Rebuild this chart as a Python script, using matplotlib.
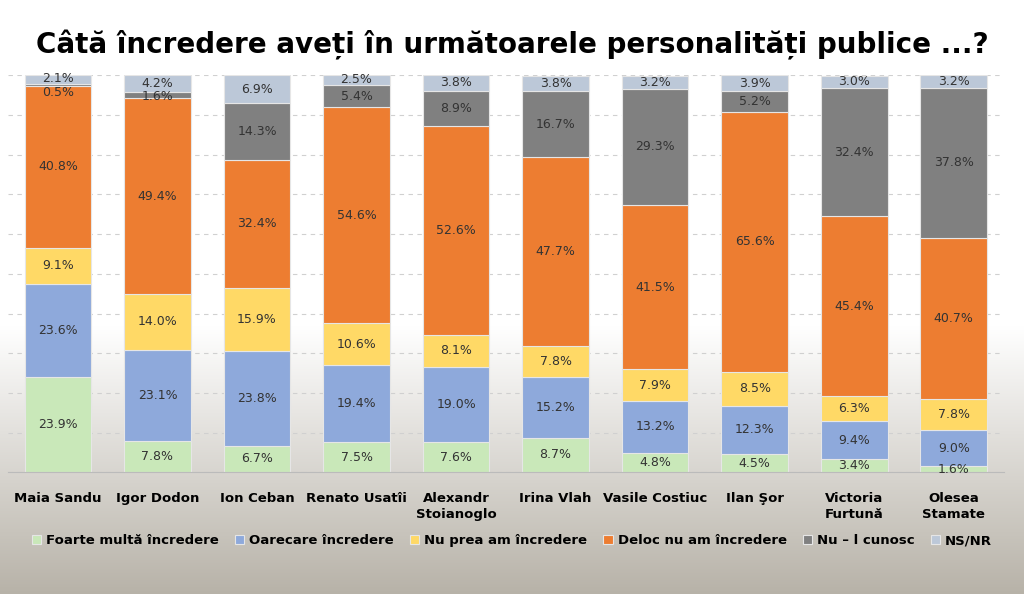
import matplotlib
matplotlib.use("Agg")
import matplotlib.pyplot as plt
import numpy as np

names = ["Maia Sandu", "Igor Dodon", "Ion Ceban", "Renato Usatîi", "Alexandr\nStoianoglo",
         "Irina Vlah", "Vasile Costiuc", "Ilan Şor", "Victoria\nFurtună", "Olesea\nStamate"]
series = ["Foarte multă încredere", "Oarecare încredere", "Nu prea am încredere",
          "Deloc nu am încredere", "Nu – l cunosc", "NS/NR"]
foarte = [23.9, 7.8, 6.7, 7.5, 7.6, 8.7, 4.8, 4.5, 3.4, 1.6]
oarecare = [23.6, 23.1, 23.8, 19.4, 19.0, 15.2, 13.2, 12.3, 9.4, 9.0]
nuprea = [9.1, 14.0, 15.9, 10.6, 8.1, 7.8, 7.9, 8.5, 6.3, 7.8]
deloc = [40.8, 49.4, 32.4, 54.6, 52.6, 47.7, 41.5, 65.6, 45.4, 40.7]
nucunosc = [0.5, 1.6, 14.3, 5.4, 8.9, 16.7, 29.3, 5.2, 32.4, 37.8]
nsnr = [2.1, 4.2, 6.9, 2.5, 3.8, 3.8, 3.2, 3.9, 3.0, 3.2]
data = [foarte, oarecare, nuprea, deloc, nucunosc, nsnr]
colors = ["#C9E8B9", "#8EA9DB", "#FFD966", "#ED7D31", "#808080", "#BCC8D8"]

fig = plt.figure(figsize=(10.24, 5.94), dpi=100)
bg = fig.add_axes([0, 0, 1, 1], zorder=-10)
top = np.array([1.0, 1.0, 1.0]); bot = np.array([0.72, 0.70, 0.66])
t = np.clip((np.linspace(0, 1, 256) - 0.55) / 0.45, 0, 1)[::-1]
img = (1 - t)[:, None, None] * top + t[:, None, None] * bot
img = np.repeat(img, 2, axis=1)
bg.imshow(img[::-1], aspect="auto", extent=[0, 1, 0, 1], origin="upper")
bg.axis("off")

fig.text(0.5, 0.925, "Câtă încredere aveți în următoarele personalități publice ...?",
         ha="center", va="center", fontsize=20, fontweight="bold")

ax = fig.add_axes([0.008, 0.205, 0.972, 0.668])
ax.patch.set_alpha(0)
x = np.arange(len(names))
bottom = np.zeros(len(names))
for k, (vals, c, lab) in enumerate(zip(data, colors, series)):
    v = np.array(vals)
    ax.bar(x, v, 0.67, bottom=bottom, color=c, edgecolor="#E6E6E6", linewidth=0.8, label=lab)
    for xi, b, vi in zip(x, bottom, v):
        y = b + vi / 2
        if vi < 1:
            y = b - 1.8
        elif vi < 2 and k == 4:
            y = b + vi / 2 - 0.4
        elif k == 5 and vi < 2.6:
            y = b + vi / 2 + 0.2
        ax.text(xi, y, f"{vi:.1f}%", ha="center", va="center", fontsize=9, color="#333333")
    bottom += v
ax.set_xlim(-0.5, len(names) - 0.5)
ax.set_ylim(0, 100)
ax.set_yticks(np.arange(0, 101, 10))
ax.set_yticklabels([])
ax.tick_params(axis="y", length=0)
ax.tick_params(axis="x", length=0, pad=14)
ax.yaxis.grid(True, color="#D0D0D0", linestyle=(0, (4, 4)), linewidth=0.8)
ax.set_axisbelow(True)
for s in ["top", "right", "left"]:
    ax.spines[s].set_visible(False)
ax.spines["bottom"].set_color("#BBBBBB")
ax.set_xticks(x)
ax.set_xticklabels(names, fontsize=9.5, fontweight="bold", va="top", linespacing=1.3)

fig.legend(*ax.get_legend_handles_labels(), loc="center", bbox_to_anchor=(0.5, 0.09), ncol=6,
           frameon=False, prop={"weight": "bold", "size": 9.5},
           handlelength=0.7, handleheight=0.7, columnspacing=1.2, handletextpad=0.4)
fig.savefig("out.png", dpi=100)
